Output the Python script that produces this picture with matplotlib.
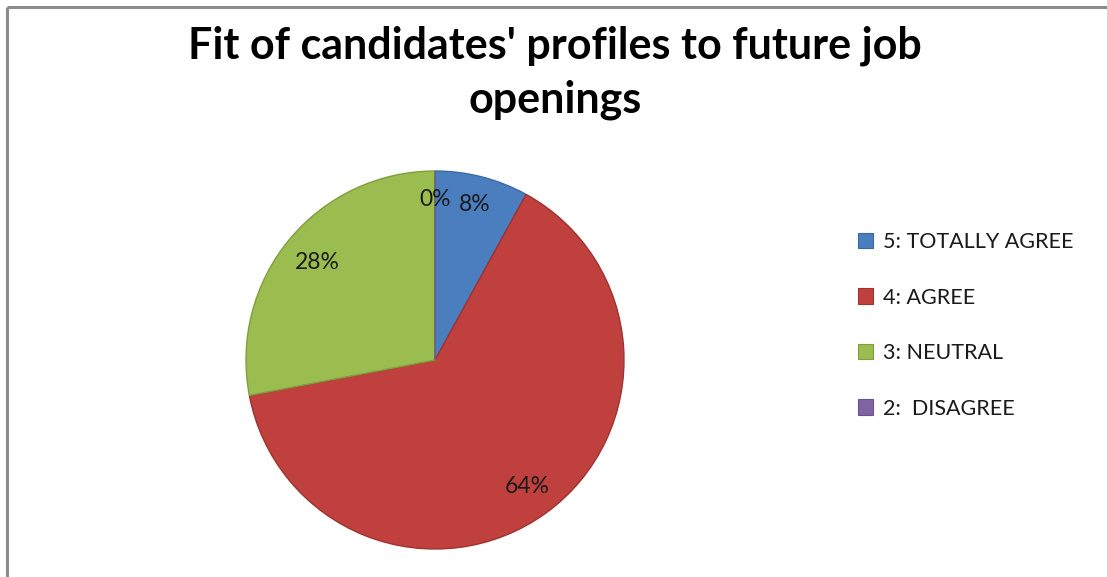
import matplotlib
matplotlib.use("Agg")
import numpy as np
import matplotlib.pyplot as plt
from matplotlib.patches import Patch

title_lines = ["Fit of candidates' profiles to future job", "openings"]
categories = ["5: TOTALLY AGREE", "4: AGREE", "3: NEUTRAL", "2:  DISAGREE"]
values = [8, 64, 28, 0]
colors = ["#4A7EBF", "#C0403E", "#9BBD4F", "#8064A2"]
edge_colors = ["#3A6AA5", "#9E3331", "#7F9E3E", "#6A528A"]
label_dist = [0.85, 0.83, 0.81, 0.85]

FONT = ["Lato", "DejaVu Sans"]
W, H = 1107, 577
fig = plt.figure(figsize=(W / 100, H / 100), dpi=100)
fig.patch.set_facecolor("white")

ax = fig.add_axes([0, 0, 1, 1])

# border (top and left visible)
ax.plot([7, W + 5], [H - 7, H - 7], color="#8C8C8C", lw=2.2, solid_capstyle="butt")
ax.plot([7, 7], [H - 7, -5], color="#8C8C8C", lw=2.2, solid_capstyle="butt")

cx, cy, r = 435, H - 360, 189
wedges, texts, autotexts = ax.pie(
    values, colors=colors, startangle=90, counterclock=False,
    center=(cx, cy), radius=r, autopct="%1.0f%%", pctdistance=0.84,
    wedgeprops=dict(linewidth=1.0),
    textprops=dict(fontsize=16.5, family=FONT, color="#1a1a1a"),
)
for w, ec in zip(wedges, edge_colors):
    w.set_edgecolor(ec)
for w, t, d in zip(wedges, autotexts, label_dist):
    ang = np.deg2rad((w.theta1 + w.theta2) / 2)
    t.set_position((cx + d * r * np.cos(ang), cy + d * r * np.sin(ang)))

ax.set_xlim(0, W)
ax.set_ylim(0, H)
ax.set_aspect("equal")
ax.axis("off")

for line, base in zip(title_lines, [59, 112]):
    fig.text(555 / W, 1 - base / H, line, ha="center", va="baseline",
             fontsize=31, fontweight="bold", family=FONT)

handles = [Patch(facecolor=c, edgecolor=e, linewidth=0.8) for c, e in zip(colors, edge_colors)]
leg = fig.legend(handles, categories, loc="upper left",
                 bbox_to_anchor=(858 / W, 1 - 232 / H), frameon=False,
                 handlelength=0.7, handleheight=0.7, handletextpad=0.45,
                 labelspacing=1.65, borderaxespad=0, borderpad=0,
                 prop=dict(family=FONT, size=15.5))
for t in leg.get_texts():
    t.set_color("#1a1a1a")

fig.savefig("out.png", dpi=100, facecolor="white")
